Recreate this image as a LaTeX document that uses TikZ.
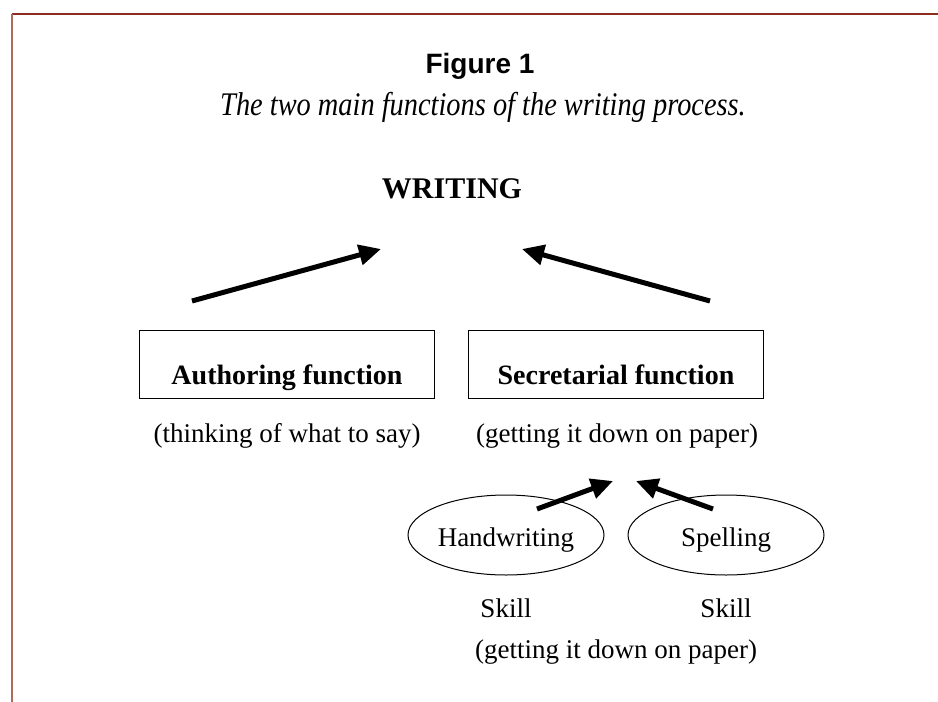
\documentclass[tikz,border=0pt]{standalone}
\usepackage{fontspec}
\usepackage{graphicx}
\setmainfont{Liberation Serif}
\newfontfamily\figsans{Liberation Sans}
\usetikzlibrary{shapes.geometric,arrows.meta}
\definecolor{frametop}{RGB}{140,45,30}
\definecolor{frameleft}{RGB}{176,106,90}
\newcommand{\bigtext}{\fontsize{27}{30}\selectfont}
\tikzset{
  funcbox/.style={draw,line width=1pt,inner sep=0pt,minimum width=295pt,
    text height=54pt,text depth=14pt,anchor=base,
    font=\fontsize{28}{30}\selectfont\bfseries},
  skillbubble/.style={ellipse,draw,line width=1pt,inner sep=0pt,
    minimum width=196pt,minimum height=80pt,text height=28pt,text depth=6pt,
    font=\bigtext},
  plain/.style={anchor=base,font=\bigtext,inner sep=0pt},
  bigarrow/.style={-{Triangle[length=22pt,width=20pt]},line width=5pt},
}
\begin{document}
\begin{tikzpicture}[x=1pt,y=-1pt]
    \useasboundingbox (0,0) rectangle (938,702);
    \draw [frametop,line width=2.2pt] (12,14) -- (938,14);
    \draw [frameleft,line width=2.6pt] (12,14) -- (12,702);
    % titles
    \node (fig) [anchor=base,inner sep=0pt,font=\figsans\bfseries\fontsize{28}{30}\selectfont] at (480,73) {Figure 1};
    \node (cap) [anchor=base,inner sep=0pt,font=\fontsize{33}{36}\selectfont\itshape] at (483,115) {\scalebox{0.86}[1]{The two main functions of the writing process.}};
    \node (writing) [plain,font=\fontsize{30}{32}\selectfont\bfseries] at (452,198) {WRITING};
    % functions
    \node (auth) [funcbox] at (287,384) {Authoring function};
    \node (secr) [funcbox] at (616,384) {Secretarial function};
    \node (authsub) [plain] at (287,442) {(thinking of what to say)};
    \node (secrsub) [plain] at (617,442) {(getting it down on paper)};
    \coordinate (a1) at (192,301);
    \coordinate (w1) at (381,249);
    \coordinate (s1) at (710,301);
    \coordinate (w2) at (522,249);
    \draw [bigarrow] (a1) -- (w1);
    \draw [bigarrow] (s1) -- (w2);
    % skills
    \node (hand) [skillbubble] at (506,535) {Handwriting};
    \node (spell) [skillbubble] at (726,535) {Spelling};
    \node (skill1) [plain] at (506,617) {Skill};
    \node (skill2) [plain] at (726,617) {Skill};
    \node (skillsub) [plain] at (616,658) {(getting it down on paper)};
    \coordinate (h1) at (537,509);
    \coordinate (t1) at (613,481);
    \coordinate (p1) at (713,509);
    \coordinate (t2) at (636,481);
    \draw [bigarrow] (h1) -- (t1);
    \draw [bigarrow] (p1) -- (t2);
\end{tikzpicture}
\end{document}
